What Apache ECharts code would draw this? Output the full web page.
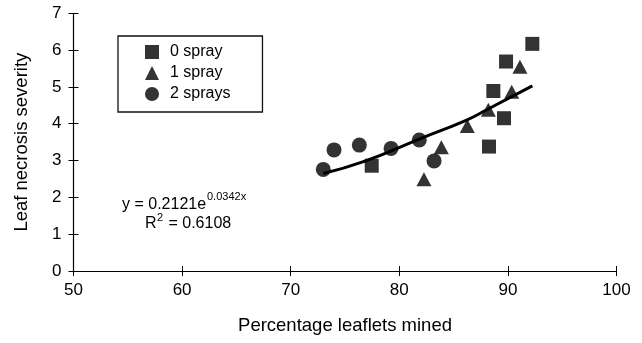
<!DOCTYPE html>
<html>
<head>
<meta charset="utf-8">
<script src="https://cdn.jsdelivr.net/npm/echarts@6/dist/echarts.min.js"></script>
<style>
  html, body { margin: 0; padding: 0; background: #fff; }
  #main { width: 642px; height: 343px; }
</style>
</head>
<body>
<div id="main"></div>
<script>
// data
var spray0 = [[92.25, 6.17], [89.83, 5.69], [88.66, 4.89], [89.64, 4.15], [88.26, 3.38], [77.46, 2.86]];
var spray1 = [[91.11, 5.55], [90.35, 4.87], [88.20, 4.38], [86.26, 3.94], [83.87, 3.36], [82.27, 2.49]];
var spray2 = [[73.00, 2.76], [73.99, 3.29], [76.32, 3.42], [79.24, 3.33], [81.84, 3.56], [83.20, 2.99]];
// exponential trend line
var trend = [[73.0, 2.65], [76.7, 2.97], [81.9, 3.59], [86.2, 4.10], [88.05, 4.38], [92.25, 5.03]];
var seriesNames = ['0 spray', '1 spray', '2 sprays'];

var font = 'Liberation Sans, Arial, sans-serif';
var myChart = echarts.init(document.getElementById('main'));

var option = {
    backgroundColor: '#fff',
    animation: false,
    textStyle: { fontFamily: font, color: '#000' },
    grid: { left: 73.5, right: 25.5, top: 13.3, bottom: 72 },
    legend: {
        data: seriesNames,
        orient: 'vertical',
        left: 118,
        top: 36,
        padding: [8, 32, 10, 27],
        itemGap: 5,
        itemWidth: 14,
        itemHeight: 14,
        borderColor: '#111',
        borderWidth: 1.3,
        textStyle: { fontFamily: font, fontSize: 16, color: '#000', padding: [0, 0, 0, 6] }
    },
    xAxis: [{
        type: 'value',
        min: 50, max: 100, interval: 10,
        splitLine: { show: false },
        axisLine: { onZero: false, lineStyle: { color: '#000', width: 1.2 } },
        axisTick: { length: 5, lineStyle: { color: '#000' } },
        axisLabel: { fontFamily: font, fontSize: 17, color: '#000', margin: 11 },
        name: 'Percentage leaflets mined',
        nameLocation: 'middle',
        nameGap: 45,
        nameTextStyle: { fontFamily: font, fontSize: 18.5, color: '#000' }
    }, {
        type: 'value',
        position: 'bottom',
        min: 50, max: 100, interval: 10,
        splitLine: { show: false },
        axisLine: { show: false, onZero: false },
        axisTick: { inside: true, length: 5, lineStyle: { color: '#000' } },
        axisLabel: { show: false }
    }],
    yAxis: [{
        type: 'value',
        min: 0, max: 7, interval: 1,
        splitLine: { show: false },
        axisLine: { show: true, lineStyle: { color: '#000', width: 1.2 } },
        axisTick: { show: true, length: 5, lineStyle: { color: '#000' } },
        axisLabel: { fontFamily: font, fontSize: 17, color: '#000', margin: 12 },
        name: 'Leaf necrosis severity',
        nameLocation: 'middle',
        nameGap: 42,
        nameTextStyle: { fontFamily: font, fontSize: 18.5, color: '#000' }
    }, {
        type: 'value',
        position: 'left',
        min: 0, max: 7, interval: 1,
        splitLine: { show: false },
        axisLine: { show: false },
        axisTick: { show: true, inside: true, length: 5, lineStyle: { color: '#000' } },
        axisLabel: { show: false }
    }],
    graphic: [
        { type: 'text', left: 122, top: 197, style: { text: 'y = 0.2121e', font: '16px ' + font, fill: '#000' } },
        { type: 'text', left: 207, top: 191, style: { text: '0.0342x', font: '11px ' + font, fill: '#000' } },
        { type: 'text', left: 145, top: 216, style: { text: 'R', font: '16px ' + font, fill: '#000' } },
        { type: 'text', left: 157, top: 212, style: { text: '2', font: '11px ' + font, fill: '#000' } },
        { type: 'text', left: 164, top: 216, style: { text: ' = 0.6108', font: '16px ' + font, fill: '#000' } }
    ],
    series: [
        {
            name: 'trend',
            type: 'line',
            data: trend,
            smooth: true,
            showSymbol: false,
            symbol: 'none',
            lineStyle: { color: '#000', width: 3 },
            z: 1
        },
        {
            name: seriesNames[0],
            type: 'scatter',
            data: spray0,
            symbol: 'rect',
            symbolSize: 14,
            itemStyle: { color: '#000' },
            z: 3
        },
        {
            name: seriesNames[1],
            type: 'scatter',
            data: spray1,
            symbol: 'triangle',
            symbolSize: [15, 14],
            itemStyle: { color: '#000' },
            z: 3
        },
        {
            name: seriesNames[2],
            type: 'scatter',
            data: spray2,
            symbol: 'circle',
            symbolSize: 15,
            itemStyle: { color: '#000' },
            z: 3
        }
    ]
};

myChart.setOption(option);
</script>
</body>
</html>
